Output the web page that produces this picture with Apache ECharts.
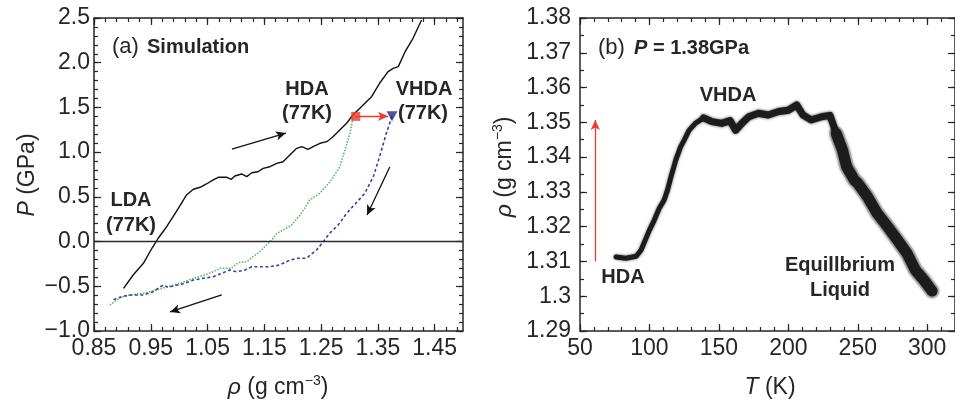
<!DOCTYPE html>
<html>
<head>
<meta charset="utf-8">
<script src="https://cdn.jsdelivr.net/npm/echarts@6/dist/echarts.min.js"></script>
<style>
  html, body { margin: 0; padding: 0; background: #fff; }
  #chart { width: 955px; height: 406px; }
</style>
</head>
<body>
<div id="chart"></div>
<script>
// ---------- (a) P vs rho at 77 K ----------
// compression of LDA (solid black)
const rhoLoad = [0.902, 0.919, 0.937, 0.952, 0.963, 0.978, 0.993, 1.004, 1.013, 1.025, 1.037, 1.048, 1.060, 1.069,
  1.084, 1.092, 1.098, 1.110, 1.119, 1.128, 1.139, 1.148, 1.160, 1.172, 1.183, 1.195, 1.207, 1.216, 1.227, 1.236,
  1.248, 1.260, 1.271, 1.283, 1.295, 1.306, 1.321, 1.333, 1.339, 1.353, 1.368, 1.377, 1.386, 1.398, 1.412, 1.427];
const pLoad = [-0.523, -0.374, -0.243, -0.075, 0.037, 0.166, 0.316, 0.428, 0.521, 0.585, 0.607, 0.644, 0.689, 0.719,
  0.719, 0.696, 0.733, 0.756, 0.726, 0.770, 0.781, 0.819, 0.837, 0.875, 0.893, 0.968, 1.043, 1.061, 1.032, 1.061,
  1.099, 1.117, 1.173, 1.248, 1.323, 1.415, 1.508, 1.583, 1.620, 1.770, 1.900, 1.937, 1.956, 2.123, 2.273, 2.478];

// decompression of HDA (green dotted)
const rhoHDA = [1.311, 1.306, 1.301, 1.292, 1.283, 1.268, 1.248, 1.230, 1.221, 1.213, 1.198, 1.183, 1.172, 1.163,
  1.154, 1.142, 1.130, 1.119, 1.104, 1.092, 1.081, 1.072, 1.060, 1.045, 1.025, 1.001, 0.980, 0.960, 0.937, 0.913,
  0.896, 0.878];
const pHDA = [1.400, 1.378, 1.211, 1.024, 0.837, 0.689, 0.540, 0.465, 0.372, 0.297, 0.185, 0.129, 0.092, 0.018,
  -0.038, -0.113, -0.169, -0.225, -0.236, -0.299, -0.299, -0.299, -0.337, -0.374, -0.411, -0.467, -0.505, -0.541,
  -0.578, -0.597, -0.627, -0.709];

// decompression of VHDA (blue dashed)
const rhoVHDA = [1.375, 1.365, 1.353, 1.342, 1.327, 1.310, 1.295, 1.280, 1.265, 1.254, 1.242, 1.224, 1.210, 1.195,
  1.177, 1.160, 1.142, 1.128, 1.116, 1.101, 1.089, 1.075, 1.060, 1.042, 1.025, 1.001, 0.996, 0.981, 0.972, 0.954,
  0.937, 0.916, 0.902, 0.884];
const pVHDA = [1.400, 1.211, 0.949, 0.726, 0.540, 0.420, 0.316, 0.185, 0.092, -0.001, -0.094, -0.187, -0.187, -0.206,
  -0.262, -0.281, -0.281, -0.281, -0.318, -0.337, -0.318, -0.355, -0.393, -0.411, -0.430, -0.486, -0.486, -0.512,
  -0.486, -0.560, -0.597, -0.597, -0.609, -0.650];

const hdaPoint = [1.311, 1.40];
const vhdaPoint = [1.375, 1.40];
// direction arrows along the paths: [from, to]
const flowArrows = [
  [[1.093, 1.035], [1.188, 1.214]],
  [[1.371, 0.834], [1.331, 0.297]],
  [[1.075, -0.597], [0.984, -0.787]]
];
const rhoTicksA = [0.85, 0.95, 1.05, 1.15, 1.25, 1.35, 1.45];
const pTicksA = [-1.0, -0.5, 0.0, 0.5, 1.0, 1.5, 2.0, 2.5];

// ---------- (b) rho vs T at 1.38 GPa ----------
const tB = [76, 83, 90.5, 94, 96.5, 100, 103.5, 107, 110.5, 113, 115.5, 119, 122.5, 125, 128.5, 133, 139, 145, 152,
  158, 162, 166.5, 171.5, 178.5, 185.5, 193, 200, 206, 210.5, 216.5, 224, 230, 234.5, 239, 242, 247.5, 250, 257,
  264, 271.5, 278.5, 285.5, 291.5, 297.5, 303.5];
const rhoB = [1.3113, 1.3109, 1.3115, 1.3133, 1.3157, 1.3190, 1.3219, 1.3252, 1.3276, 1.3305, 1.3343, 1.3392,
  1.3430, 1.3449, 1.3477, 1.3497, 1.3513, 1.3502, 1.3497, 1.3505, 1.3477, 1.3497, 1.3516, 1.3526, 1.3521, 1.3531,
  1.3535, 1.3550, 1.3521, 1.3507, 1.3516, 1.3520, 1.3468, 1.3420, 1.3372, 1.3334, 1.3325, 1.3286, 1.3238, 1.3200,
  1.3162, 1.3123, 1.3075, 1.3047, 1.3015];
const heatArrow = [[61, 1.310], [61, 1.3507]];
const tTicksB = [50, 100, 150, 200, 250, 300];
const rhoTicksB = [1.29, 1.30, 1.31, 1.32, 1.33, 1.34, 1.35, 1.36, 1.37, 1.38];

// ---------- helpers ----------
const FONT = '"Liberation Sans", Arial, Helvetica, sans-serif';
const INK = '#262626';
const zip = (a, b) => a.map((v, i) => [v, b[i]]);
const steps = (from, to, step) => {
  const out = [];
  const n = Math.round((to - from) / step);
  for (let i = 0; i <= n; i++) out.push(+(from + i * step).toFixed(4));
  return out;
};
const minorRhoA = steps(0.85, 1.50, 0.02);
const minorPA = steps(-1.0, 2.5, 0.1);
const minorTB = steps(50, 320, 10);
const minorRhoB = steps(1.29, 1.38, 0.005);

// two mirrored axes (bottom/top or left/right) for one grid
function pairAxes(dim, grid, min, max, ticks, len, showLine, fmt, margin) {
  const sides = dim === 'x' ? ['bottom', 'top'] : ['left', 'right'];
  return sides.map((pos, i) => ({
    type: 'value', gridIndex: grid, position: pos, min: min, max: max,
    splitLine: { show: false },
    axisPointer: { show: false },
    axisLine: { show: showLine, onZero: false, lineStyle: { color: INK, width: 1.5 } },
    axisTick: { show: true, inside: true, length: len, customValues: ticks, lineStyle: { color: INK, width: 1.2 } },
    axisLabel: {
      show: !!fmt && i === 0, customValues: ticks, formatter: fmt, margin: margin,
      color: INK, fontSize: 23, fontFamily: FONT
    }
  }));
}

const fmtRhoA = v => v.toFixed(2);
const fmtPA = v => (v < -1e-9 ? '\u2212' : '') + Math.abs(v).toFixed(1);
const fmtTB = v => String(Math.round(v));
const fmtRhoB = v => String(parseFloat(v.toFixed(2)));

const gridA = { left: 94, top: 18, width: 369, height: 313 };
const gridB = { left: 580, top: 18, width: 378, height: 313 };

const xAxes = [].concat(
  pairAxes('x', 0, 0.85, 1.50, rhoTicksA, 7, true, fmtRhoA, 6),
  pairAxes('x', 1, 0.85, 1.50, minorRhoA, 4, false, null, 0),
  pairAxes('x', 2, 50, 320, tTicksB, 7, true, fmtTB, 6),
  pairAxes('x', 3, 50, 320, minorTB, 4, false, null, 0)
);
const yAxes = [].concat(
  pairAxes('y', 0, -1.0, 2.5, pTicksA, 7, true, fmtPA, 4),
  pairAxes('y', 1, -1.0, 2.5, minorPA, 4, false, null, 0),
  pairAxes('y', 2, 1.29, 1.38, rhoTicksB, 7, true, fmtRhoB, 9),
  pairAxes('y', 3, 1.29, 1.38, minorRhoB, 4, false, null, 0)
);

const arrowLine = (pairs, color) => ({
  silent: true,
  symbol: ['none', 'arrow'],
  symbolSize: [7, 10],
  label: { show: false },
  lineStyle: { color: color, width: 1.3, type: 'solid' },
  data: pairs.map(p => [{ coord: p[0] }, { coord: p[1] }])
});

const curveB = zip(tB, rhoB);
const from = t => curveB.filter(d => d[0] >= t);
const bandStyle = (w, c, blur) => ({
  width: w, color: c, join: 'round', cap: 'round',
  shadowBlur: blur || 0, shadowColor: 'rgba(0,0,0,0.6)'
});

// text helpers
const rich = {
  r: { fontSize: 22, fontFamily: FONT, fill: INK, color: INK },
  b: { fontSize: 20, fontFamily: FONT, fontWeight: 'bold', fill: INK, color: INK },
  bi: { fontSize: 20, fontFamily: FONT, fontWeight: 'bold', fontStyle: 'italic', fill: INK, color: INK },
  n: { fontSize: 23, fontFamily: FONT, fill: INK, color: INK, lineHeight: 27, verticalAlign: 'middle' },
  i: { fontSize: 23, fontFamily: FONT, fontStyle: 'italic', fill: INK, color: INK, lineHeight: 27, verticalAlign: 'middle' },
  s: { fontSize: 14, fontFamily: FONT, fill: INK, color: INK, lineHeight: 14, verticalAlign: 'top' }
};
function label(text, x, y, align, rot) {
  return {
    type: 'text', x: x, y: y, rotation: rot || 0, silent: true,
    style: {
      text: text, rich: rich, fill: INK,
      align: align || 'center', textAlign: align || 'center',
      verticalAlign: 'middle', textVerticalAlign: 'middle'
    }
  };
}

const option = {
  animation: false,
  backgroundColor: '#fff',
  grid: [gridA, gridA, gridB, gridB],
  xAxis: xAxes,
  yAxis: yAxes,
  series: [
    {
      type: 'line', xAxisIndex: 0, yAxisIndex: 0, data: zip(rhoLoad, pLoad),
      symbol: 'none', lineStyle: { color: '#111', width: 1.4 },
      markLine: arrowLine(flowArrows, '#111'), z: 3
    },
    {
      type: 'line', xAxisIndex: 0, yAxisIndex: 0, data: zip(rhoHDA, pHDA),
      symbol: 'none', lineStyle: { color: '#49b85a', width: 1.5, type: 'dotted' },
      markLine: {
        silent: true, symbol: 'none', label: { show: false },
        lineStyle: { color: '#2a2a2a', width: 1.4, type: 'solid' },
        data: [{ yAxis: 0 }]
      }
    },
    {
      type: 'line', xAxisIndex: 0, yAxisIndex: 0, data: zip(rhoVHDA, pVHDA),
      symbol: 'none', lineStyle: { color: '#3a3f9f', width: 1.6, type: [3, 2.5] },
      markLine: arrowLine([[hdaPoint, [vhdaPoint[0] - 0.007, vhdaPoint[1]]]], '#ee3b2a')
    },
    {
      type: 'scatter', xAxisIndex: 0, yAxisIndex: 0, data: [hdaPoint],
      symbol: 'rect', symbolSize: 9, itemStyle: { color: '#ee3b2a' }, z: 5
    },
    {
      type: 'scatter', xAxisIndex: 0, yAxisIndex: 0, data: [vhdaPoint],
      symbol: 'triangle', symbolRotate: 180, symbolSize: [11, 10], itemStyle: { color: '#24297f' }, z: 5
    },
    // (b) fluctuating density trace, widening as the liquid fluctuates more
    {
      type: 'line', xAxisIndex: 4, yAxisIndex: 4, data: from(232), symbol: 'none',
      lineStyle: bandStyle(15, 'rgba(30,30,30,0.22)', 0), z: 2
    },
    {
      type: 'line', xAxisIndex: 4, yAxisIndex: 4, data: curveB, symbol: 'none',
      lineStyle: bandStyle(5, '#1c1c1c', 3), z: 3,
      markLine: arrowLine([heatArrow], '#ee3b2a')
    },
    {
      type: 'line', xAxisIndex: 4, yAxisIndex: 4, data: from(138), symbol: 'none',
      lineStyle: bandStyle(7, '#1c1c1c', 3), z: 3
    },
    {
      type: 'line', xAxisIndex: 4, yAxisIndex: 4, data: from(232), symbol: 'none',
      lineStyle: bandStyle(11, '#1c1c1c', 4), z: 3
    }
  ],
  graphic: [
    label('{r|(a)}', 112, 47, 'left'),
    label('{b|Simulation}', 147, 47, 'left'),
    label('{b|HDA}', 307, 89),
    label('{b|(77K)}', 307, 113),
    label('{b|VHDA}', 424, 89),
    label('{b|(77K)}', 423, 113),
    label('{b|LDA}', 131, 200),
    label('{b|(77K)}', 131, 225),
    label('{r|(b)}', 598, 48, 'left'),
    label('{bi|P}{b| = 1.38GPa}', 634, 48, 'left'),
    label('{b|VHDA}', 728, 95),
    label('{b|HDA}', 623, 277),
    label('{b|Equillbrium}', 840, 265),
    label('{b|Liquid}', 840, 290),
    label('{i|\u03c1}{n| (g cm}{s|\u22123}{n|)}', 278, 388),
    label('{i|T}{n| (K)}', 770, 388),
    label('{i|P}{n| (GPa)}', 28, 175, 'center', Math.PI / 2),
    label('{i|\u03c1}{n| (g cm}{s|\u22123}{n|)}', 505, 167, 'center', Math.PI / 2)
  ]
};

const chart = echarts.init(document.getElementById('chart'), null, { renderer: 'canvas' });
chart.setOption(option);
</script>
</body>
</html>
